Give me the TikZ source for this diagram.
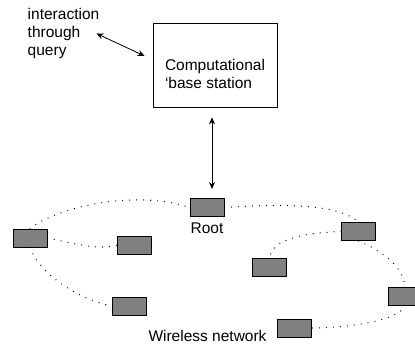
\documentclass[tikz,border=0pt]{standalone}
\usepackage{fontspec}
\setmainfont{Liberation Sans}
\usetikzlibrary{arrows.meta}

\begin{document}
\begin{tikzpicture}[x=1pt, y=-1pt,
    font=\fontsize{15.5}{18.3}\selectfont,
    sensore/.style={draw, line width=0.9pt, fill=gray, minimum width=34pt, minimum height=18pt, inner sep=0pt},
    collegamento/.style={line width=1.3pt, line cap=round, dash pattern=on 0pt off 7pt},
    freccia/.style={{Stealth[length=7pt,width=6pt]}-{Stealth[length=7pt,width=6pt]}, line width=0.8pt}]
    \useasboundingbox (0,0) rectangle (415,348);

    % Stazione base e testo della query
    \node[draw, line width=0.8pt, minimum width=124pt, minimum height=84pt] (stazione) at (215,65) {};
    \node[align=left, inner sep=0pt] (testostazione) at (215,74) {Computational\\`base station};
    \node[align=left, inner sep=0pt] (interazione) at (63.5,33.5) {interaction\\through\\query};

    % Nodi della rete (nome/x/y)
    \foreach \nome/\x/\y in {root/207/207.5, sa/30/238, sb/134.5/245, sc/129.5/306,
                             sd/358.5/231.5, se/269.5/267.5, sf/405/296, sg/294/328} {
        \node[sensore] (\nome) at (\x,\y) {};
    }
    \node (etichettaroot) at (207,228) {Root};
    \node (etichettarete) at (207.5,336) {Wireless network};

    % Frecce
    \draw[freccia] ([xshift=-3pt]interazione.east) -- ([xshift=-8pt,yshift=9pt]stazione.west);
    \draw[freccia, shorten <=10pt, shorten >=9pt] ([xshift=-3pt]stazione.south) -- ([xshift=-3pt]stazione.south |- root.north);

    % Collegamenti punteggiati
    \draw[collegamento] (sa.north) .. controls (60,205) and (140,190) .. (root.west);
    \draw[collegamento] (sa.east) .. controls (80,245) and (100,250) .. (sb.west);
    \draw[collegamento] (sa.south) .. controls (40,275) and (80,300) .. (sc.west);
    \draw[collegamento] (root.east) .. controls (290,203) and (340,205) .. (sd.north);
    \draw[collegamento] (sd.west) .. controls (300,233) and (272,240) .. (se.north);
    \draw[collegamento] (sd.south) .. controls (380,250) and (403,265) .. (sf.north);
    \draw[collegamento] (sf.south) .. controls (400,320) and (350,328) .. (sg.east);
\end{tikzpicture}
\end{document}
